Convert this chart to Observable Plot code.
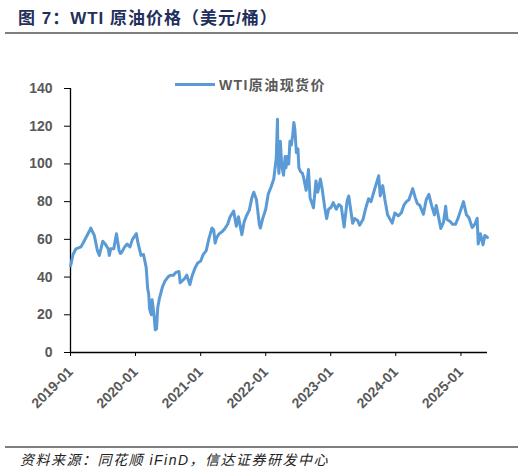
<!DOCTYPE html>
<html>
<head>
<meta charset="utf-8">
<script src="https://cdn.jsdelivr.net/npm/d3@7"></script>
<script src="https://cdn.jsdelivr.net/npm/@observablehq/plot@0.6"></script>
<style>
  html, body { margin: 0; padding: 0; background: #fff; }
  body { width: 528px; height: 475px; position: relative; overflow: hidden; font-family: "Liberation Sans", Arial, "Noto Sans CJK SC", sans-serif; }
  #title { position: absolute; left: 18px; top: 4px; font-size: 17px; font-weight: bold; color: #1f2f5c; font-family: "Liberation Sans", "Noto Sans CJK SC", sans-serif; letter-spacing: 1px; white-space: nowrap; }
  .rule { position: absolute; left: 5px; width: 513px; height: 2px; background: #7f7f7f; }
  #chart { position: absolute; left: 0; top: 40px; }
  #legend { position: absolute; left: 175px; top: 74px; display: flex; align-items: center; font-size: 14px; font-weight: bold; color: #595959; font-family: "Liberation Sans", "Noto Sans CJK SC", sans-serif; letter-spacing: 1.4px; white-space: nowrap; }
  #legend .sw { width: 40px; height: 3px; background: #5b9bd5; margin-right: 4px; }
  #source { position: absolute; left: 20px; top: 449px; font-size: 14px; font-style: italic; color: #222; font-family: "Liberation Sans", "Noto Sans CJK SC", sans-serif; letter-spacing: 1.5px; white-space: nowrap; }
</style>
</head>
<body>
<div id="title">图 7：WTI 原油价格（美元/桶）</div>
<div class="rule" style="top:32px"></div>
<div id="chart"></div>
<div id="legend"><div class="sw"></div><span>WTI原油现货价</span></div>
<div class="rule" style="top:446px"></div>
<div id="source">资料来源：同花顺 iFinD，信达证券研发中心</div>
<script>
const dates = [
  "2019-01-02","2019-01-15","2019-02-01","2019-02-15","2019-03-01","2019-03-15","2019-04-01","2019-04-15","2019-04-25","2019-05-15",
  "2019-06-01","2019-06-12","2019-07-01","2019-07-15","2019-08-01","2019-08-07","2019-08-15","2019-09-01","2019-09-16","2019-10-01",
  "2019-10-08","2019-10-15","2019-11-01","2019-11-15","2019-12-01","2019-12-15",
  "2020-01-06","2020-01-15","2020-02-01","2020-02-15","2020-03-01","2020-03-09","2020-03-15","2020-03-20","2020-03-30","2020-04-03",
  "2020-04-14","2020-04-21","2020-04-24","2020-04-28","2020-05-05","2020-05-15","2020-06-01","2020-06-15","2020-07-01","2020-07-15",
  "2020-08-01","2020-08-15","2020-09-01","2020-09-08","2020-10-01","2020-10-15","2020-11-01","2020-11-15","2020-12-01","2020-12-15",
  "2021-01-01","2021-01-15","2021-02-01","2021-02-15","2021-03-05","2021-03-15","2021-03-23","2021-04-01","2021-04-15","2021-05-01",
  "2021-05-15","2021-06-01","2021-06-15","2021-07-05","2021-07-20","2021-08-01","2021-08-20","2021-09-01","2021-09-15","2021-10-01",
  "2021-10-15","2021-10-26","2021-11-10","2021-11-26","2021-12-02","2021-12-15",
  "2022-01-01","2022-01-15","2022-02-01","2022-02-15","2022-03-01","2022-03-08","2022-03-10","2022-03-16","2022-03-24","2022-04-01",
  "2022-04-11","2022-04-20","2022-04-25","2022-05-01","2022-05-10","2022-05-17","2022-05-25","2022-06-01","2022-06-08","2022-06-14",
  "2022-06-22","2022-07-01","2022-07-06","2022-07-15","2022-07-26","2022-08-01","2022-08-16","2022-08-29","2022-09-07","2022-09-26",
  "2022-10-10","2022-10-20","2022-11-04","2022-11-15","2022-11-28","2022-12-09","2022-12-20",
  "2023-01-03","2023-01-15","2023-02-01","2023-02-15","2023-03-01","2023-03-17","2023-04-03","2023-04-12","2023-05-04","2023-05-15",
  "2023-06-01","2023-06-12","2023-07-01","2023-07-15","2023-08-01","2023-08-15","2023-09-01","2023-09-27","2023-10-06","2023-10-20",
  "2023-11-01","2023-11-16","2023-12-12","2023-12-27",
  "2024-01-15","2024-02-01","2024-02-15","2024-03-01","2024-03-15","2024-04-05","2024-04-20","2024-05-01","2024-05-15","2024-06-04",
  "2024-06-20","2024-07-05","2024-07-20","2024-08-05","2024-08-15","2024-09-10","2024-09-25","2024-10-07","2024-10-15","2024-11-01",
  "2024-11-15","2024-12-01","2024-12-15",
  "2025-01-15","2025-02-01","2025-02-15","2025-03-05","2025-03-20","2025-04-02","2025-04-08","2025-04-20","2025-05-05","2025-05-15",
  "2025-05-30"
];
const prices = [
  46,52,55,55.5,56,58.5,61.5,64,66,62,
  54,51.5,59,57.5,55,51.5,55,55,63,54,
  52.5,53,56,57.5,56,60,
  63,58,51.5,52,45,34,31,23,20,28,
  20,12,17,12.5,24,29,35,38,40,41,
  41,42.5,43,37,39,41,36,41,45,47.5,
  48.5,52,54,60,66,65,58,61,63,64,
  65.5,68,72,75,67,72,62.5,69,72.5,75.5,
  82,85,81,68,66,71,
  76,84,88,92,103,123.7,106,95,112,99,
  94,104,98,104,100,112,110,115,122,118,
  106,108,98,96,95,93,86,97,82,76.7,
  91,85,92,86,77,71,76,
  77,79.5,76,78.5,77.5,66.5,80.5,83,68.5,71,
  70,67.5,70.5,76,81.5,80,85.5,93.7,83,88.5,
  81,73,68.6,74,
  72.5,74,78,80,81,86.9,82,79,78,73.3,
  81,83.9,78,73,78,65.8,69,77.5,70.5,69.5,
  68,68,71,
  80,73,71.5,66.3,68,71.2,57.5,63,57.1,62,
  61
];
const yTicks = [0,20,40,60,80,100,120,140];
const xTickLabels = ["2019-01","2020-01","2021-01","2022-01","2023-01","2024-01","2025-01"];

const data = dates.map((d, i) => ({date: new Date(d + "T00:00:00Z"), value: prices[i]}));
const xTicks = xTickLabels.map(s => new Date(s + "-01T00:00:00Z"));
const x0 = new Date("2019-01-01T00:00:00Z");
const x1 = new Date("2025-05-30T00:00:00Z");
const axisFont = "Liberation Sans, Arial, sans-serif";

const chart = Plot.plot({
  width: 528,
  height: 385,
  marginLeft: 70,
  marginRight: 41,
  marginTop: 48,
  marginBottom: 73,
  style: {fontFamily: axisFont, background: "transparent"},
  x: {type: "utc", domain: [x0, x1]},
  y: {domain: [0, 140]},
  marks: [
    Plot.axisY({ticks: yTicks, tickSize: 6, tickPadding: 12, label: null, fontSize: 14, fontWeight: "bold", fill: "#595959", stroke: "#000"}),
    Plot.axisX({ticks: xTicks, tickFormat: d3.utcFormat("%Y-%m"), tickRotate: -45, tickSize: 4, tickPadding: 13, label: null, fontSize: 14, fontWeight: "bold", fill: "#595959", stroke: "#000"}),
    Plot.ruleY([0], {stroke: "#000", strokeWidth: 1.3}),
    Plot.ruleX([x0], {stroke: "#000", strokeWidth: 1.3}),
    Plot.lineY(data, {x: "date", y: "value", stroke: "#5b9bd5", strokeWidth: 3, curve: "linear"})
  ]
});
document.getElementById("chart").appendChild(chart);
</script>
</body>
</html>
